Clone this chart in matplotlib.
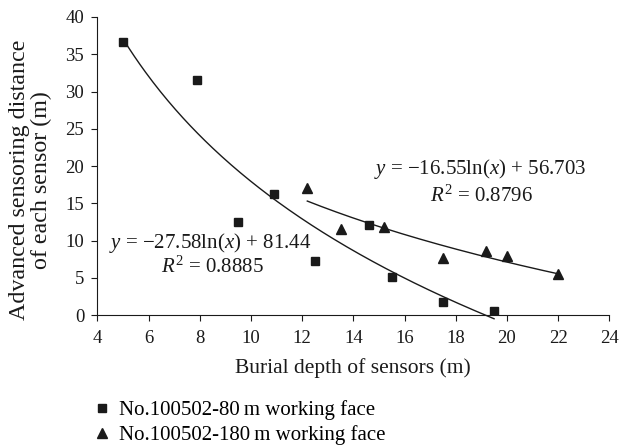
import numpy as np
import matplotlib
matplotlib.use("Agg")
import matplotlib.pyplot as plt

plt.rcParams['font.family'] = ['Liberation Serif', 'DejaVu Serif']
plt.rcParams['mathtext.fontset'] = 'custom'
plt.rcParams['mathtext.rm'] = 'Liberation Serif'
plt.rcParams['mathtext.it'] = 'Liberation Serif:italic'

# burial depth (m) and advanced sensing distance (m) for each working face
depth_80 = [5.0, 7.9, 9.5, 10.9, 12.5, 14.6, 15.5, 17.5, 19.5]
dist_80 = [36.7, 31.5, 12.5, 16.3, 7.3, 12.1, 5.1, 1.7, 0.6]
depth_180 = [12.2, 13.5, 15.2, 17.5, 19.2, 20.0, 22.0]
dist_180 = [17.0, 11.6, 11.8, 7.7, 8.6, 7.9, 5.5]

# logarithmic trend lines y = a*ln(x) + b
fit_80 = (-27.58, 81.44, 0.8885)
fit_180 = (-16.55, 56.703, 0.8796)

xticks = np.arange(4, 25, 2)
yticks = np.arange(0, 41, 5)

fig = plt.figure(figsize=(6.21, 4.47), dpi=100)
ax = fig.add_axes([0.157, 0.295, 0.824, 0.667])

ink = '#1a1a1a'
ax.plot(depth_80, dist_80, 's', color=ink, ms=6.3, ls='none',
        label='No.100502-80\u2009m working face', zorder=3)
ax.plot(depth_180, dist_180, '^', color=ink, ms=6.5, ls='none',
        label='No.100502-180\u2009m working face', zorder=3)

for xs, (a, b, r2) in ((depth_80, fit_80), (depth_180, fit_180)):
    xx = np.linspace(min(xs), max(xs), 200)
    ax.plot(xx, a * np.log(xx) + b, color=ink, lw=1.0, clip_on=False, zorder=2)

fs = 15
ax.text(18.95, 19.6, r'$y$ = −16.55ln($x$) + 56.703', ha='center', va='center',
        fontsize=fs, color=ink)
ax.text(19.0, 16.0, r'$R^2$ = 0.8796', ha='center', va='center', fontsize=fs,
        color=ink)
ax.text(8.4, 9.7, r'$y$ = −27.58ln($x$) + 81.44', ha='center', va='center',
        fontsize=fs, color=ink)
ax.text(8.5, 6.45, r'$R^2$ = 0.8885', ha='center', va='center', fontsize=fs,
        color=ink)

ax.set_xlim(4, 24)
ax.set_ylim(0, 40)
ax.set_xticks(xticks)
ax.set_yticks(yticks)
ax.tick_params(labelsize=13.5, direction='out', length=4.5, width=0.8,
               colors=ink)
ax.tick_params(axis='x', pad=6.5)
ax.tick_params(axis='y', pad=5)
for side in ('top', 'right'):
    ax.spines[side].set_visible(False)
for side in ('left', 'bottom'):
    ax.spines[side].set_linewidth(0.8)
    ax.spines[side].set_color(ink)

ax.set_xlabel('Burial depth of sensors (m)', fontsize=15.5, color=ink, labelpad=8)
fig.text(30.5 / 621, 1 - 180 / 447,
         'Advanced sensoring distance\nof each sensor (m)', rotation=90,
         ha='center', va='center', multialignment='center', fontsize=17.3,
         linespacing=1.08, color=ink)

fig.legend(loc='upper left', bbox_to_anchor=(0.1475, 0.104), frameon=False,
           fontsize=15, handletextpad=0.32, labelspacing=0.22,
           borderpad=0, borderaxespad=0, handlelength=1.0)

fig.savefig('out.png', dpi=100)
